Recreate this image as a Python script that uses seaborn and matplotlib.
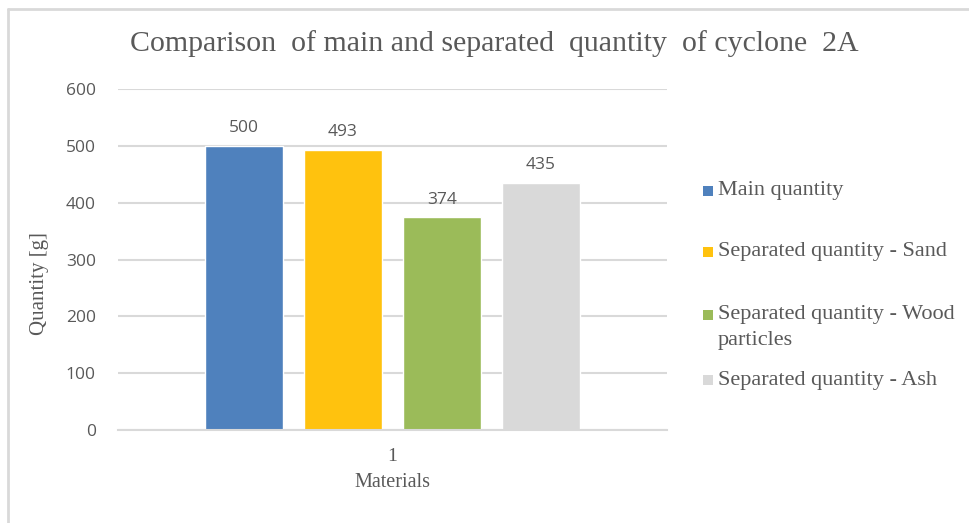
import matplotlib
matplotlib.use("Agg")
import matplotlib.pyplot as plt
import seaborn as sns
import pandas as pd
from matplotlib.lines import Line2D
from matplotlib.patches import Rectangle

# data
categories = ["1"]
series = [
    "Main quantity",
    "Separated quantity - Sand",
    "Separated quantity - Wood\nparticles",
    "Separated quantity - Ash",
]
values = [500, 493, 374, 435]
colors = ["#4f81bd", "#ffc20e", "#9bbb59", "#d9d9d9"]
y_ticks = [0, 100, 200, 300, 400, 500, 600]

df = pd.DataFrame({
    "material": categories * len(series),
    "series": series,
    "quantity": values,
})

sns.set_theme(style="white")
serif = ["Liberation Serif", "DejaVu Serif"]
sans = ["Open Sans", "DejaVu Sans"]
text_gray = "#595959"
grid_gray = "#d9d9d9"

W, H = 969, 523
fig = plt.figure(figsize=(W / 100, H / 100), dpi=100)
ax = fig.add_axes([118 / W, 1 - 430 / H, 549 / W, 341 / H])

sns.barplot(
    data=df, x="material", y="quantity", hue="series",
    hue_order=series, palette=colors, width=0.721, gap=0.21,
    saturation=1, ax=ax, legend=False,
)

for cont in ax.containers:
    ax.bar_label(cont, fmt="%d", padding=7, fontsize=12.5, color=text_gray,
                 family=sans)

ax.set_ylim(0, 600)
ax.set_xlim(-0.5, 0.5)
ax.set_yticks(y_ticks)
ax.set_yticklabels([str(t) for t in y_ticks], fontsize=12.5, color=text_gray,
                   family=sans)
ax.set_xticks([0])
ax.set_xticklabels(categories, fontsize=14, color=text_gray, family=serif)
ax.tick_params(axis="y", length=0, pad=16)
ax.tick_params(axis="x", length=0, pad=13)
ax.yaxis.grid(True, color=grid_gray, linewidth=1.5)
ax.set_axisbelow(True)
for side in ["top", "right", "left"]:
    ax.spines[side].set_visible(False)
ax.spines["bottom"].set_color(grid_gray)
ax.spines["bottom"].set_linewidth(1.5)

ax.set_xlabel("Materials", fontsize=14.5, color=text_gray, family=serif,
              labelpad=6)
ax.set_ylabel("Quantity [g]", fontsize=15, color=text_gray, family=serif)
ax.yaxis.set_label_coords(-0.125, 0.43)

fig.text(0.51, 1 - 44 / H,
         "Comparison  of main and separated  quantity  of cyclone  2A",
         ha="center", va="center", fontsize=21.5, color=text_gray,
         family=serif)

# legend on the right, placed like the original
legend_y = [191, 252, 315, 380]
for label, col, yc in zip(series, colors, legend_y):
    fig.add_artist(Rectangle((703 / W, 1 - (yc + 5) / H), 10 / W, 10 / H,
                             facecolor=col, edgecolor="none",
                             transform=fig.transFigure))
    first = label.split("\n")[0]
    fig.text(718 / W, 1 - yc / H, first, ha="left", va="center",
             fontsize=16, color=text_gray, family=serif)
    if "\n" in label:
        fig.text(718 / W, 1 - (yc + 25) / H, label.split("\n")[1],
                 ha="left", va="center", fontsize=16, color=text_gray,
                 family=serif)

# light frame lines on left and top
fig.add_artist(Line2D([8 / W, 8 / W], [0, 1 - 9 / H],
                      color=grid_gray, linewidth=2, transform=fig.transFigure))
fig.add_artist(Line2D([8 / W, 1], [1 - 9 / H, 1 - 9 / H],
                      color=grid_gray, linewidth=2, transform=fig.transFigure))

fig.savefig("out.png", dpi=100)
